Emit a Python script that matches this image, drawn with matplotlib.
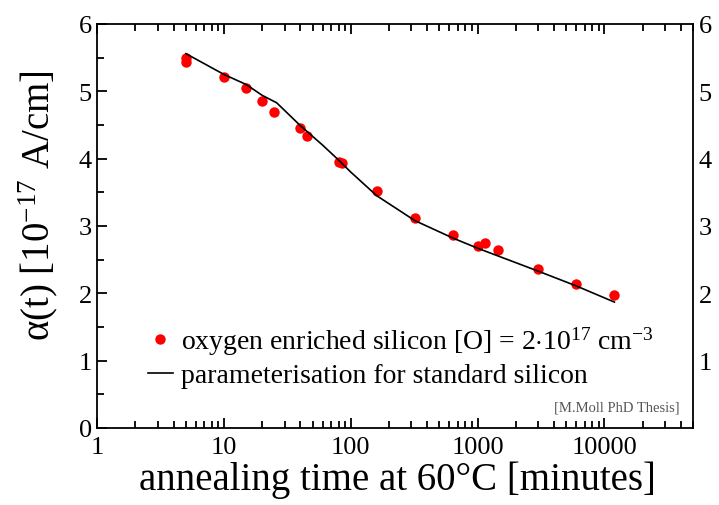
import matplotlib
matplotlib.use("Agg")
import matplotlib.pyplot as plt
from matplotlib.ticker import LogLocator, MultipleLocator, NullFormatter, FixedLocator

plt.rcParams['font.family'] = ['Liberation Serif', 'DejaVu Serif']
plt.rcParams['mathtext.fontset'] = 'custom'
plt.rcParams['mathtext.rm'] = 'Liberation Serif'
plt.rcParams['mathtext.it'] = 'Liberation Serif:italic'

# measured points, oxygen enriched silicon
t_data = [5, 5, 10, 15, 20, 25, 40, 45, 80, 85, 160, 320, 640, 1000, 1150, 1440, 3000, 6000, 12000]
a_data = [5.43, 5.50, 5.22, 5.05, 4.85, 4.69, 4.46, 4.34, 3.95, 3.93, 3.52, 3.12, 2.86, 2.71, 2.74, 2.65, 2.36, 2.14, 1.98]

# parameterisation for standard silicon
t_fit = [5, 10, 15, 20, 26, 40, 60, 80, 100, 160, 320, 640, 1000, 3000, 6000, 12000]
a_fit = [5.56, 5.25, 5.10, 4.94, 4.83, 4.49, 4.20, 3.98, 3.80, 3.45, 3.08, 2.82, 2.67, 2.33, 2.11, 1.87]

xticks = [1, 10, 100, 1000, 10000]
xticklabels = ["1", "10", "100", "1000", "10000"]
yticks = [0, 1, 2, 3, 4, 5, 6]

fig = plt.figure(figsize=(7.19, 5.06), dpi=100)
ax = fig.add_axes([0.1353, 0.1522, 0.9638 - 0.1353, 0.9506 - 0.1522])

ax.plot(t_data, a_data, 'o', color='red', markersize=7.5, markeredgewidth=0,
        label=r'oxygen enriched silicon [O] = 2$\cdot$10$^{17}$ cm$^{-3}$')
ax.plot(t_fit, a_fit, '-', color='black', lw=1.2,
        label='parameterisation for standard silicon')

ax.set_xscale('log')
ax.set_xlim(1, 50000)
ax.set_ylim(0, 6)

ax.xaxis.set_major_locator(FixedLocator(xticks))
ax.set_xticklabels(xticklabels)
ax.xaxis.set_minor_locator(LogLocator(base=10, subs=range(2, 10), numticks=20))
ax.xaxis.set_minor_formatter(NullFormatter())
ax.set_yticks(yticks)
ax.yaxis.set_minor_locator(MultipleLocator(0.5))

ax.tick_params(which='both', direction='in', top=True, right=True, labelsize=19, width=1.3)
ax.tick_params(which='major', length=7)
ax.tick_params(which='minor', length=5)
ax.tick_params(axis='x', pad=6)
ax.tick_params(axis='y', pad=4)

# right side labels, no zero
ax2 = ax.twinx()
ax2.set_ylim(0, 6)
ax2.set_yticks(yticks[1:])
ax2.tick_params(which='both', direction='in', labelsize=19, length=0, pad=4)
for s in ax2.spines.values():
    s.set_visible(False)
ax.tick_params(labelright=False)

for s in ax.spines.values():
    s.set_linewidth(1.3)

ax.set_xlabel(u'annealing time at 60\u00b0C [minutes]', fontsize=28)
ax.xaxis.set_label_coords(0.5045, -0.08)
ax.set_ylabel(u'\u03b1(t) [10$^{-17}$ A/cm]', fontsize=28)
ax.yaxis.set_label_coords(-0.063, 0.552)

leg = ax.legend(loc='upper left', bbox_to_anchor=(0.085, 0.255), frameon=False,
                fontsize=20, handlelength=0.9, handletextpad=0.3, labelspacing=0.2,
                borderaxespad=0, borderpad=0)

ax.text(0.978, 0.052, '[M.Moll PhD Thesis]', transform=ax.transAxes, ha='right',
        va='center', fontsize=10.5, color='#555555')

fig.savefig('out.png', dpi=100)
